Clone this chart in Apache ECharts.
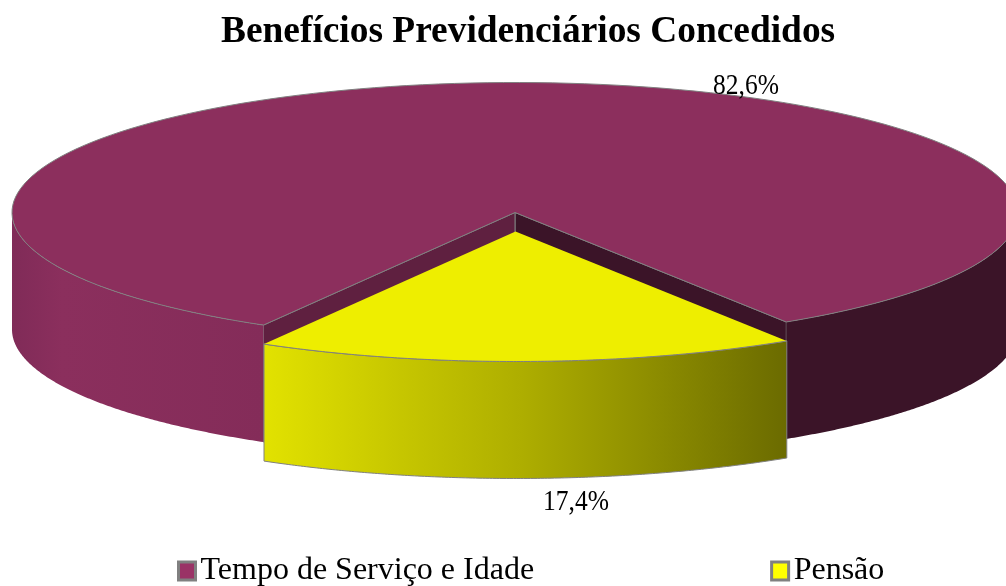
<!DOCTYPE html>
<html>
<head>
<meta charset="utf-8">
<title>Benefícios Previdenciários Concedidos</title>
<style>
    html, body { margin: 0; padding: 0; background: #fff; overflow: hidden; }
    #chart { width: 1006px; height: 586px; }
</style>
<script src="https://cdn.jsdelivr.net/npm/echarts@6/dist/echarts.min.js"></script>
</head>
<body>
<div id="chart"></div>
<script>
    const chartTitle = 'Benefícios Previdenciários Concedidos';
    const categories = ['Tempo de Serviço e Idade', 'Pensão'];
    const seriesValues = [82.6, 17.4];

    const FONT = '"Liberation Serif", "Times New Roman", serif';
    const EDGE = '#808080';
    const CX = 515, CY = 212.5, RX = 503, RY = 130, DEPTH = 117;
    const START = 32.64 * Math.PI / 180; // onde começa a primeira fatia, medido a partir de baixo

    const looks = [
        {
            top: '#8c2f5d', legend: '#9a3366', wallStart: '#3b1428', wallEnd: '#5f2040',
            offset: [0, 0], label: [746, 86],
            leftSide: {type: 'linear', x: 0, y: 0, x2: 1, y2: 0, colorStops: [
                {offset: 0, color: '#802b58'}, {offset: 0.2, color: '#8b2f5d'}, {offset: 1, color: '#842c59'}]},
            rightSide: '#3b1428'
        },
        {
            top: '#eeee00', legend: '#ffff00',
            offset: [0.5, 19], label: [576, 502],
            side: {type: 'linear', x: 0, y: 0, x2: 1, y2: 0, colorStops: [
                {offset: 0, color: '#e2e200'}, {offset: 0.5, color: '#adad00'}, {offset: 1, color: '#6b6b00'}]}
        }
    ];

    const total = seriesValues.reduce((a, b) => a + b, 0);

    function sliceRange(index) {
        let begin = START;
        for (let i = 0; i < index; i++) {
            begin += seriesValues[i] / total * Math.PI * 2;
        }
        return [begin, begin + seriesValues[index] / total * Math.PI * 2];
    }

    function rimPoint(t, off, down) {
        return [CX + off[0] + RX * Math.sin(t), CY + off[1] + RY * Math.cos(t) + down];
    }

    function arc(from, to, off, down) {
        const pts = [];
        const n = 160;
        for (let i = 0; i <= n; i++) {
            pts.push(rimPoint(from + (to - from) * i / n, off, down));
        }
        return pts;
    }

    function sidePiece(from, to, off, fill, stroke) {
        const pts = arc(from, to, off, 0).concat(arc(to, from, off, DEPTH));
        return {
            type: 'polygon',
            shape: {points: pts},
            style: {fill: fill, stroke: stroke || null, lineWidth: 1}
        };
    }

    function wall(t, off, fill) {
        const apex = [CX + off[0], CY + off[1]];
        const rim = rimPoint(t, off, 0);
        return {
            type: 'polygon',
            shape: {points: [apex, rim, [rim[0], rim[1] + DEPTH], [apex[0], apex[1] + DEPTH]]},
            style: {fill: fill, stroke: EDGE, lineWidth: 1}
        };
    }

    function renderSlice(params, api) {
        const i = params.seriesIndex;
        const look = looks[i];
        const off = look.offset;
        const range = sliceRange(i);
        const children = [];

        if (i === 0) {
            // a fatia grande dá a volta por trás: paredes internas e os dois trechos do lado visível
            const end = range[1] - Math.PI * 2;
            children.push(wall(range[0], off, look.wallStart));
            children.push(wall(end, off, look.wallEnd));
            children.push(sidePiece(-Math.PI / 2, end, off, look.leftSide));
            children.push(sidePiece(range[0], Math.PI / 2, off, look.rightSide));
            children.push({
                type: 'polygon',
                shape: {points: [[CX + off[0], CY + off[1]]].concat(arc(range[0], range[1], off, 0))},
                style: {fill: look.top, stroke: EDGE, lineWidth: 1}
            });
        } else {
            const begin = range[0] - Math.PI * 2;
            const end = range[1] - Math.PI * 2;
            children.push(sidePiece(begin, end, off, look.side, EDGE));
            children.push({
                type: 'polygon',
                shape: {points: [[CX + off[0], CY + off[1]]].concat(arc(begin, end, off, 0))},
                style: {fill: look.top}
            });
            children.push({
                type: 'polyline',
                shape: {points: arc(begin, end, off, 0)},
                style: {fill: null, stroke: EDGE, lineWidth: 1}
            });
        }

        children.push({
            type: 'text',
            z2: 10,
            x: look.label[0],
            y: look.label[1],
            scaleY: 1.12,
            style: {
                text: api.value(0).toFixed(1).replace('.', ',') + '%',
                align: 'center',
                verticalAlign: 'middle',
                fill: '#000',
                font: '25.5px ' + FONT
            }
        });
        return {type: 'group', children: children};
    }

    const chart = echarts.init(document.getElementById('chart'));
    chart.setOption({
        backgroundColor: '#ffffff',
        animation: false,
        title: {
            text: chartTitle,
            left: 216,
            top: 9,
            textStyle: {fontFamily: FONT, fontWeight: 'bold', fontSize: 37.4, color: '#000'}
        },
        legend: {
            left: 172,
            top: 550,
            itemWidth: 17,
            itemHeight: 18,
            itemGap: 236,
            textStyle: {fontFamily: FONT, fontSize: 32, color: '#000'},
            data: categories.map((name, i) => ({
                name: name,
                icon: 'rect',
                itemStyle: {color: looks[i].legend, borderColor: EDGE, borderWidth: 3}
            }))
        },
        series: categories.map((name, i) => ({
            type: 'custom',
            name: name,
            coordinateSystem: 'none',
            silent: true,
            z: i + 1,
            itemStyle: {color: looks[i].legend},
            renderItem: renderSlice,
            data: [[seriesValues[i]]]
        }))
    });
</script>
</body>
</html>
